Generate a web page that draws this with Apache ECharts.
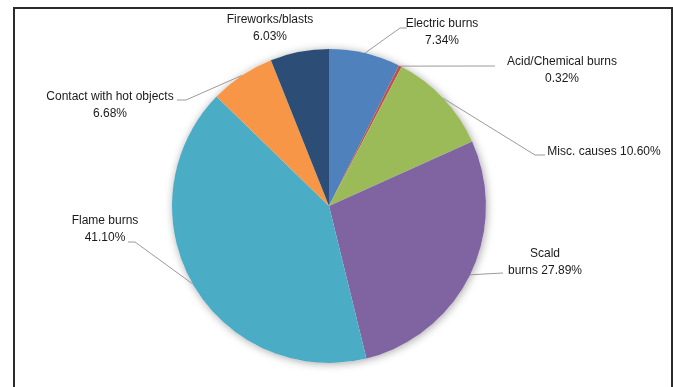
<!DOCTYPE html>
<html>
<head>
<meta charset="utf-8">
<style>
html,body{margin:0;padding:0;background:#fff;}
#c{width:673px;height:387px;}
</style>
<script src="https://cdn.jsdelivr.net/npm/echarts@6/dist/echarts.min.js"></script>
</head>
<body>
<div id="c"></div>
<script>
// ---- data ----
var categories = ['Electric burns', 'Acid/Chemical burns', 'Misc. causes', 'Scald burns', 'Flame burns', 'Contact with hot objects', 'Fireworks/blasts'];
var values = [7.34, 0.32, 10.60, 27.89, 41.10, 6.68, 6.03];
var labelTexts = ['Electric burns\n7.34%', 'Acid/Chemical burns\n0.32%', 'Misc. causes 10.60%', 'Scald\nburns 27.89%', 'Flame burns\n41.10%', 'Contact with hot objects\n6.68%', 'Fireworks/blasts\n6.03%'];
var colors = ['#4F81BD', '#C0504D', '#9BBB59', '#8064A2', '#4BACC6', '#F79646', '#2C4D75'];

// ---- label placement (layout, not data) ----
var labelPlace = [
  {x: 442, y: 32, line: [[400, 28], [407, 28]]},
  {x: 562, y: 70, line: [[495, 66], [495, 66]]},
  {x: 604, y: 152, line: [[535, 155], [545, 155]]},
  {x: 545, y: 262, line: [[503, 273], [503, 273]]},
  {x: 105, y: 229, line: [[135, 242], [128, 242]]},
  {x: 110, y: 105, line: [[186, 100], [177, 100]]},
  {x: 270, y: 28, line: null}
];

var chart = echarts.init(document.getElementById('c'), null, {renderer: 'canvas'});
var dataItems = categories.map(function (c, i) {
  var item = {name: c, value: values[i], itemStyle: {color: colors[i]}};
  if (!labelPlace[i].line) item.labelLine = {show: false};
  return item;
});

chart.setOption({
  animation: false,
  graphic: [{
    type: 'rect',
    shape: {x: 14, y: 8, width: 658, height: 400},
    style: {fill: 'none', stroke: '#2b2b2b', lineWidth: 2},
    silent: true
  }],
  series: [
    {
      type: 'pie',
      silent: true,
      center: [329, 206],
      radius: 157,
      z: 1,
      label: {show: false},
      labelLine: {show: false},
      itemStyle: {color: '#fff', shadowBlur: 9, shadowColor: 'rgba(0,0,0,0.35)', shadowOffsetX: 1, shadowOffsetY: 1},
      data: [{value: 1}]
    },
    {
      type: 'pie',
      z: 2,
      center: [329, 206],
      radius: 157,
      startAngle: 90,
      clockwise: true,
      avoidLabelOverlap: false,
      itemStyle: {borderWidth: 0},
      label: {
        show: true,
        formatter: function (p) { return labelTexts[p.dataIndex]; },
        fontFamily: 'Liberation Sans, Arial, sans-serif',
        fontSize: 12,
        color: '#1a1a1a',
        lineHeight: 17,
        align: 'center'
      },
      labelLine: {show: true, lineStyle: {color: '#9a9a9a', width: 1}, length: 10, length2: 10},
      labelLayout: function (params) {
        var L = labelPlace[params.dataIndex];
        var res = {x: L.x, y: L.y, align: 'center', verticalAlign: 'middle'};
        if (L.line && params.labelLinePoints) {
          var p0 = params.labelLinePoints[0];
          res.labelLinePoints = [[p0[0], p0[1]], L.line[0], L.line[1]];
        }
        return res;
      },
      data: dataItems
    }
  ]
});
</script>
</body>
</html>
